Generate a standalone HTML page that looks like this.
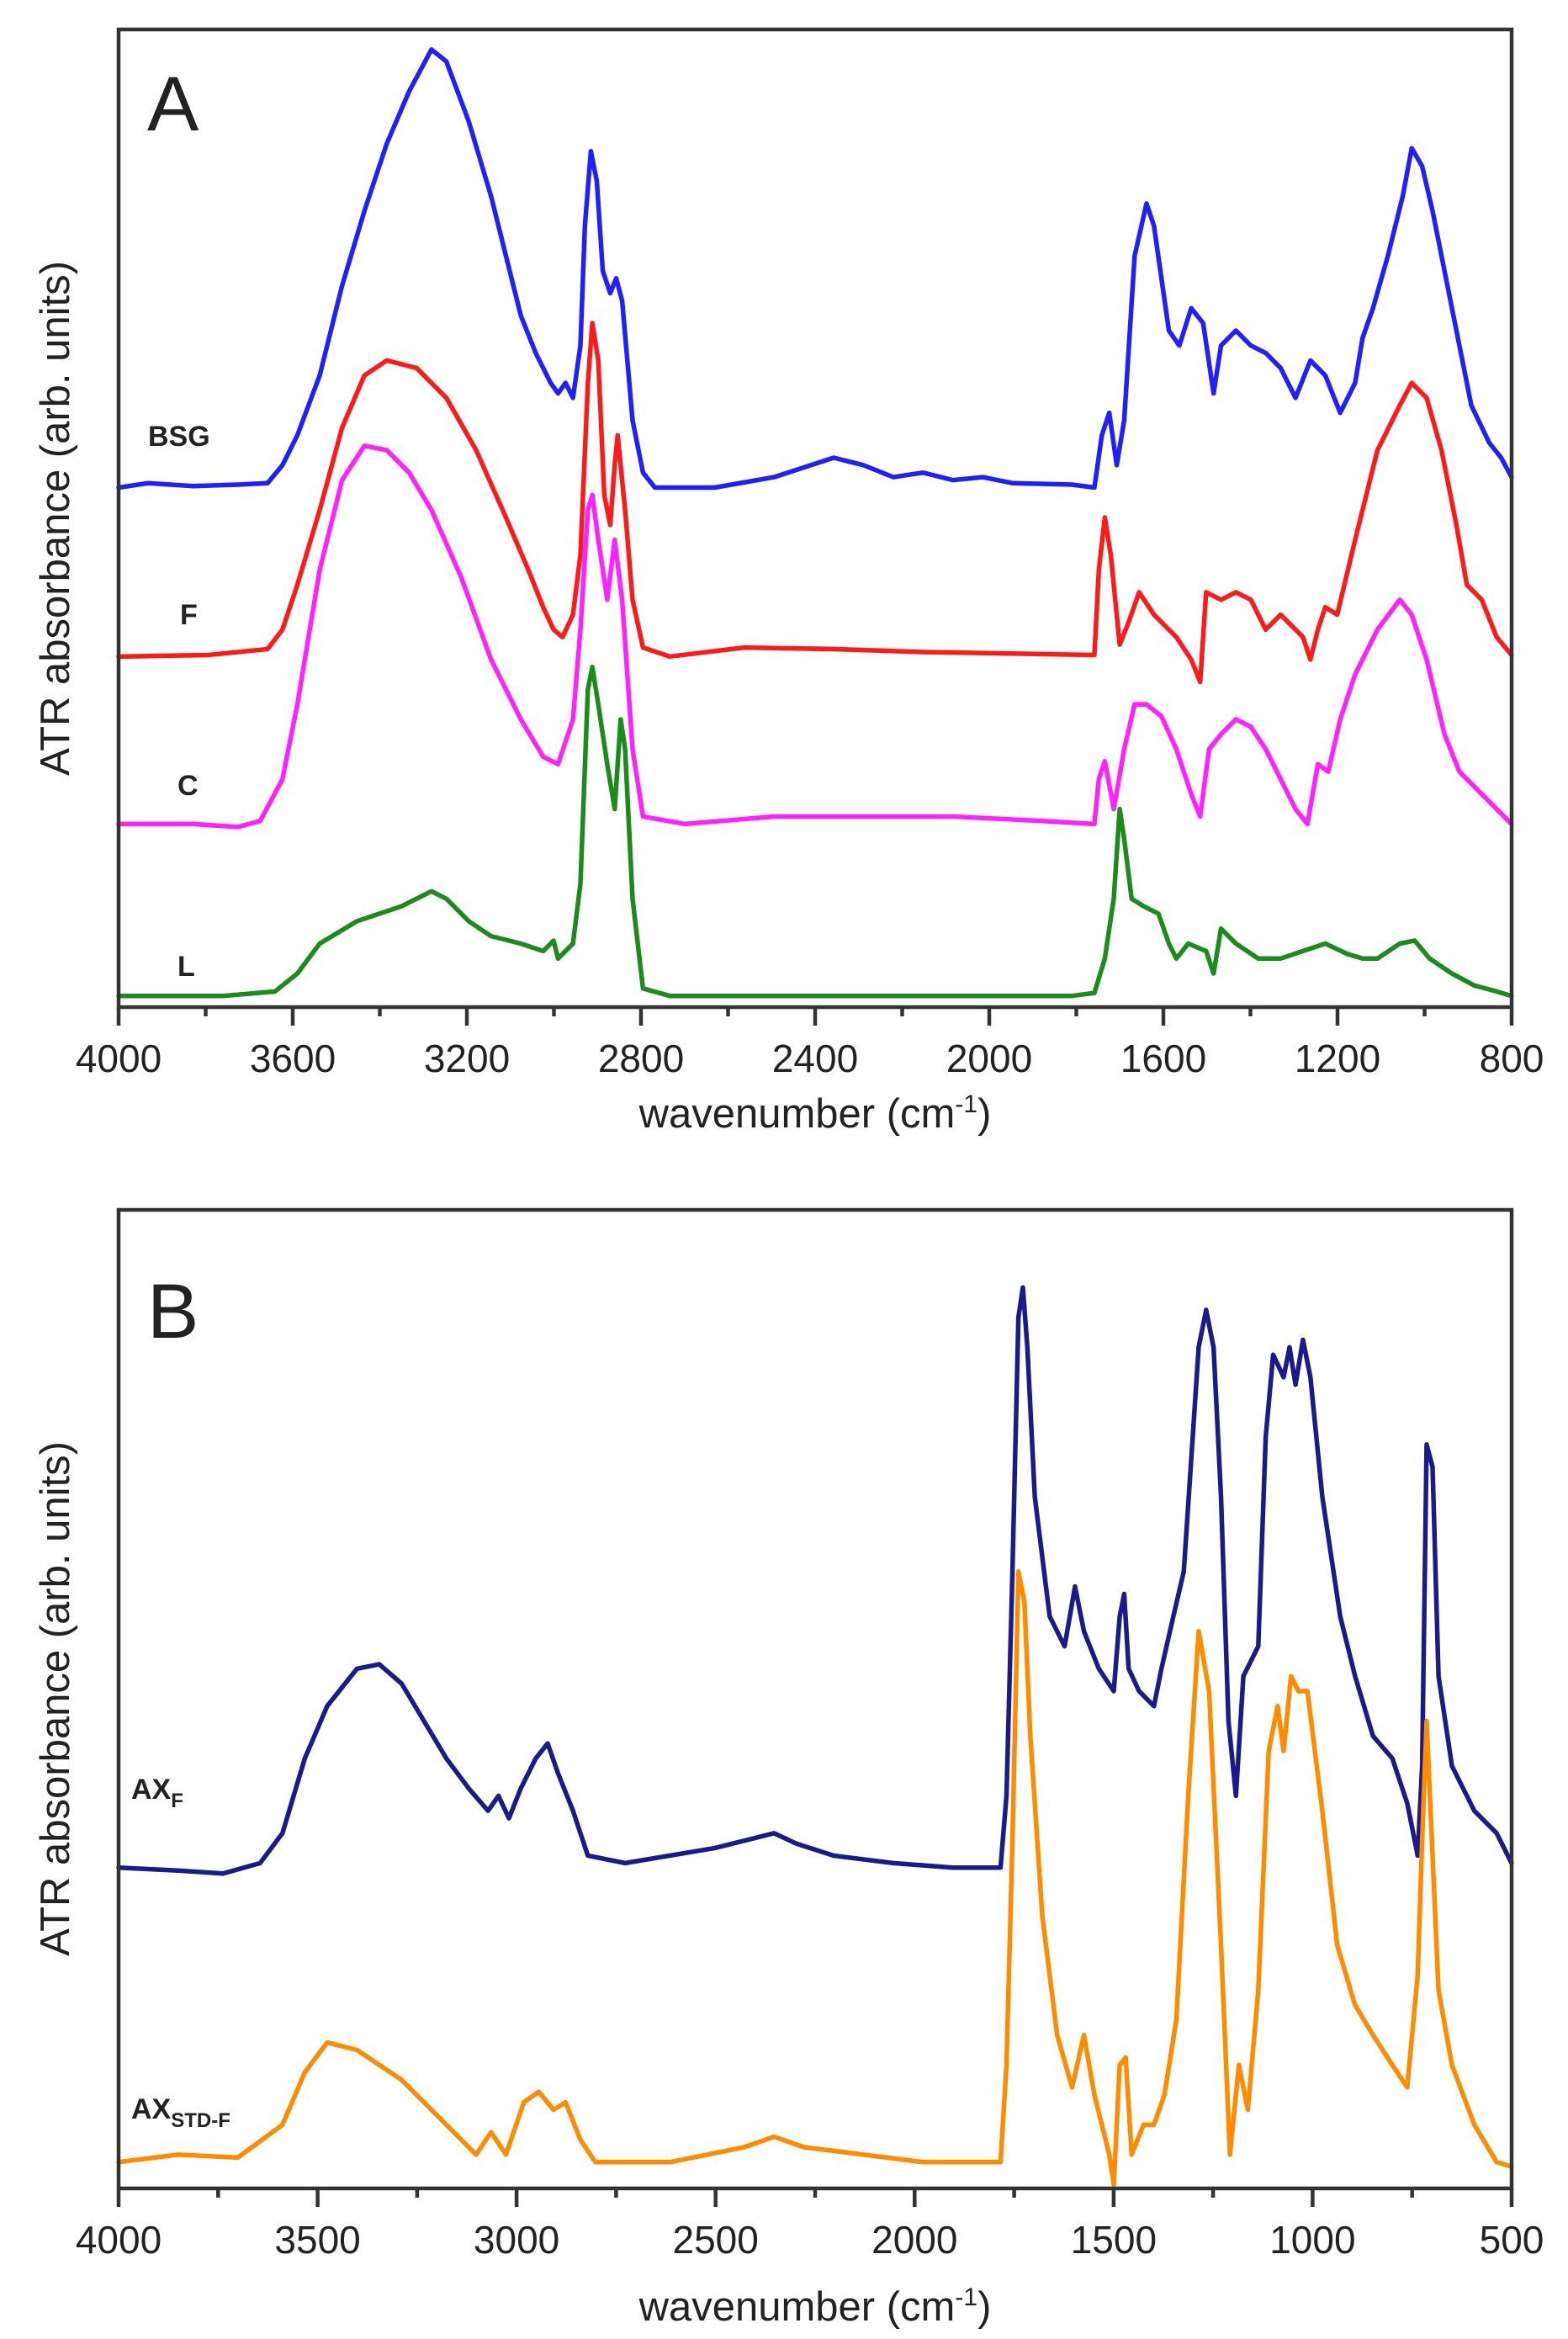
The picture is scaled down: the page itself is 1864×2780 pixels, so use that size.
<!DOCTYPE html>
<html><head><meta charset="utf-8"><style>
html,body{margin:0;padding:0;background:#fff}
svg{display:block}
text{font-family:"Liberation Sans",sans-serif;fill:#222}
</style></head><body>
<svg width="1864" height="2780" viewBox="0 0 1864 2780" xmlns="http://www.w3.org/2000/svg">
<g fill="none" stroke-linejoin="round" stroke-linecap="round" transform="matrix(1.771,0,0,1.777,-0.7,2)" stroke-width="3.1">
<polyline stroke="#1f1fff" points="80,325 100,322 130,324 160,323 180,322 190,310 200,290 215,250 230,190 245,140 260,95 275,60 290,32 300,40 315,80 330,130 340,170 350,210 360,235 370,255 375,262 380,255 385,265 390,230 393,150 397,100 401,120 405,180 410,195 414,185 418,200 425,280 432,315 440,325 480,325 520,318 560,305 580,310 600,318 620,315 640,320 660,318 680,322 720,323 735,325 740,290 745,275 750,310 755,280 762,170 770,135 775,150 785,220 792,230 800,205 808,215 815,262 820,230 830,220 840,230 850,235 860,245 870,265 880,240 890,250 900,275 910,255 915,225 922,205 932,170 942,130 948,98 955,110 962,140 970,180 978,220 988,270 1000,295 1008,305 1015,318"/>
<polyline stroke="#ff1a1a" points="80,438 140,437 180,433 190,420 200,390 215,340 230,285 245,250 260,240 280,245 300,265 320,300 340,345 355,380 365,405 372,420 378,425 385,410 390,370 395,255 398,215 402,240 406,330 410,350 413,310 415,290 420,340 425,400 432,432 450,438 500,432 560,433 620,435 680,436 735,437 738,380 742,345 746,370 752,430 758,415 765,395 775,410 790,425 800,440 806,455 810,395 820,400 830,395 840,400 850,420 860,410 875,425 880,440 885,420 890,405 898,410 910,360 925,300 940,270 948,255 958,265 968,300 978,350 985,390 995,400 1005,425 1015,437"/>
<polyline stroke="#ff22ff" points="80,550 130,550 160,552 175,548 190,520 200,470 215,380 230,320 245,297 260,300 275,315 290,340 310,385 330,440 350,480 365,505 375,510 385,480 390,420 395,340 398,330 402,360 408,400 413,360 418,400 425,500 432,545 460,550 520,545 580,545 640,545 700,548 735,550 738,520 742,508 748,540 755,500 762,470 770,470 780,478 790,500 800,530 806,545 812,500 820,490 830,480 840,485 850,500 860,520 870,540 878,550 885,510 892,515 900,480 910,450 925,420 940,400 948,410 958,440 970,490 980,515 990,525 1005,540 1015,550"/>
<polyline stroke="#1a8c1a" points="80,665 150,665 185,662 200,650 215,630 240,615 270,605 290,595 300,600 315,615 330,625 350,630 365,635 372,628 375,640 385,630 390,590 395,460 398,445 402,470 408,510 413,540 417,480 420,500 425,600 432,660 450,665 720,665 735,663 742,640 748,600 752,540 755,560 760,600 768,605 778,610 785,630 790,640 798,630 810,635 815,650 820,620 830,630 845,640 860,640 875,635 890,630 905,637 915,640 925,640 940,630 950,628 960,640 975,650 990,658 1005,662 1015,665"/>
<polyline stroke="#1a1a8c" points="80,1248 120,1250 150,1252 175,1245 190,1225 205,1175 220,1140 240,1115 255,1112 270,1125 285,1150 300,1175 315,1195 328,1210 335,1200 342,1215 350,1195 360,1175 368,1165 375,1185 385,1210 395,1240 420,1245 480,1235 520,1225 535,1232 560,1240 600,1245 640,1248 672,1248 676,1200 680,1050 684,880 687,860 690,900 695,1000 705,1080 715,1100 722,1060 728,1090 738,1115 748,1130 752,1080 755,1065 758,1115 765,1130 775,1140 780,1115 788,1080 795,1050 805,900 810,875 815,900 820,1000 825,1150 830,1200 835,1120 845,1100 850,960 855,905 862,920 866,900 870,925 875,895 880,920 888,1000 900,1080 910,1120 922,1160 935,1175 945,1205 952,1240 955,1180 958,965 962,980 966,1120 975,1180 990,1210 1005,1225 1015,1245"/>
<polyline stroke="#ff8c00" points="80,1445 120,1440 160,1442 190,1420 205,1385 220,1365 240,1370 270,1390 300,1420 320,1440 330,1425 340,1440 352,1405 362,1398 372,1410 380,1405 390,1430 400,1445 450,1445 500,1435 520,1428 540,1435 580,1440 620,1445 672,1445 676,1380 680,1230 684,1050 688,1070 692,1160 700,1280 710,1360 720,1395 728,1360 735,1400 745,1440 748,1460 752,1380 756,1375 760,1440 768,1420 775,1420 782,1400 790,1350 798,1200 805,1090 812,1130 820,1300 826,1440 832,1380 838,1410 845,1330 852,1170 858,1140 862,1170 867,1120 872,1130 878,1130 888,1210 898,1300 910,1340 922,1360 935,1380 945,1395 952,1320 955,1230 958,1150 962,1240 966,1330 975,1380 990,1420 1005,1445 1015,1448"/>
</g>
<g stroke="#333" stroke-width="4.5" fill="none">
<rect x="141" y="35" width="1656" height="1162"/>
<rect x="141" y="1438" width="1656" height="1163"/>
<path d="M141,1197v22M348,1197v22M555,1197v22M762,1197v22M969,1197v22M1176,1197v22M1383,1197v22M1590,1197v22M1797,1197v22
M244.5,1197v11M451.5,1197v11M658.5,1197v11M865.5,1197v11M1072.5,1197v11M1279.5,1197v11M1486.5,1197v11M1693.5,1197v11"/>
<path d="M141,2601v22M377.6,2601v22M614.1,2601v22M850.7,2601v22M1087.3,2601v22M1323.9,2601v22M1560.4,2601v22M1797,2601v22
M259.3,2601v11M495.9,2601v11M732.4,2601v11M969,2601v11M1205.6,2601v11M1442.1,2601v11M1678.7,2601v11"/>
</g>
<text x="175" y="155" font-size="92">A</text>
<text x="175" y="1590" font-size="92">B</text>
<g font-size="46" text-anchor="middle">
<text x="141" y="1274">4000</text><text x="348" y="1274">3600</text><text x="555" y="1274">3200</text><text x="762" y="1274">2800</text><text x="969" y="1274">2400</text><text x="1176" y="1274">2000</text><text x="1383" y="1274">1600</text><text x="1590" y="1274">1200</text><text x="1797" y="1274">800</text>
<text x="141" y="2678">4000</text><text x="377.6" y="2678">3500</text><text x="614.1" y="2678">3000</text><text x="850.7" y="2678">2500</text><text x="1087.3" y="2678">2000</text><text x="1323.9" y="2678">1500</text><text x="1560.4" y="2678">1000</text><text x="1797" y="2678">500</text>
</g>
<g font-size="49" text-anchor="middle">
<text x="969" y="1340">wavenumber (cm<tspan dy="-18" font-size="30">-1</tspan><tspan dy="18">)</tspan></text>
<text x="969" y="2758">wavenumber (cm<tspan dy="-18" font-size="30">-1</tspan><tspan dy="18">)</tspan></text>
<text transform="translate(82,616) rotate(-90)">ATR absorbance (arb. units)</text>
<text transform="translate(82,2019) rotate(-90)">ATR absorbance (arb. units)</text>
</g>
<g font-size="34" font-weight="bold">
<text x="176" y="530">BSG</text>
<text x="214" y="742">F</text>
<text x="211" y="945">C</text>
<text x="211" y="1160">L</text>
<text x="156" y="2138">AX<tspan font-size="24" dy="10">F</tspan></text>
<text x="156" y="2518">AX<tspan font-size="24" dy="10">STD-F</tspan></text>
</g>
</svg>
</body></html>
